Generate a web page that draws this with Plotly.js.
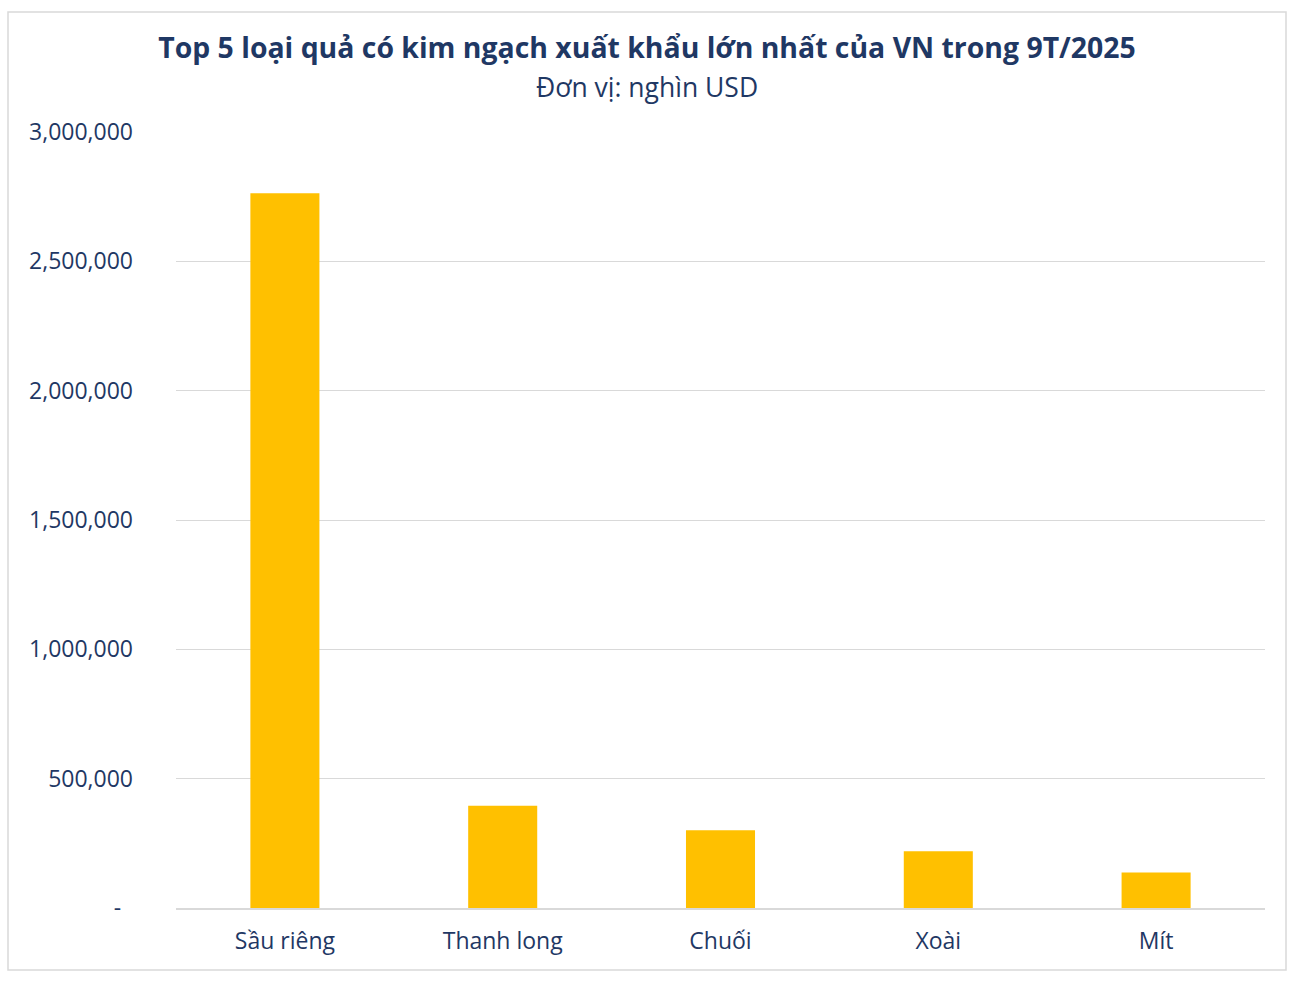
<!DOCTYPE html>
<html>
<head>
<meta charset="utf-8">
<script src="https://cdn.plot.ly/plotly-3.0.1.min.js"></script>
<style>
html,body{margin:0;padding:0;background:#ffffff;}
#chart{width:1294px;height:982px;}
</style>
</head>
<body>
<div id="chart"></div>
<script>
// Data (nghìn USD)
const categories = ["Sầu riêng", "Thanh long", "Chuối", "Xoài", "Mít"];
const values = [2763000, 395000, 301000, 219000, 137000];
const tickValues = [0, 500000, 1000000, 1500000, 2000000, 2500000, 3000000];
const tickLabels = ["-\u00a0\u00a0", "500,000", "1,000,000", "1,500,000", "2,000,000", "2,500,000", "3,000,000"];
const titleText = "Top 5 loại quả có kim ngạch xuất khẩu lớn nhất của VN trong 9T/2025";
const subtitleText = "Đơn vị: nghìn USD";

const navy = "#1f3864";
const fontFam = "'Open Sans', 'Noto Sans', sans-serif";

const trace = {
  type: "bar",
  x: categories,
  y: values,
  marker: {color: "#ffc000"},
  hoverinfo: "x+y"
};

const layout = {
  width: 1294,
  height: 982,
  margin: {l: 176, r: 29, t: 132, b: 74},
  paper_bgcolor: "#ffffff",
  plot_bgcolor: "#ffffff",
  showlegend: false,
  bargap: 0.683,
  font: {family: fontFam, color: navy},
  title: {
    text: "<b>" + titleText + "</b>",
    font: {family: fontFam, size: 28.4, color: navy},
    x: 0.5, xanchor: "center", xref: "container",
    y: 1 - 48/982, yanchor: "middle", yref: "container"
  },
  annotations: [{
    text: subtitleText,
    xref: "paper", yref: "paper",
    x: (647 - 176) / 1089, y: (908 - 87) / 776,
    xanchor: "center", yanchor: "middle",
    showarrow: false,
    font: {family: fontFam, size: 26.5, color: navy}
  }],
  xaxis: {
    type: "category",
    showgrid: false,
    showline: true,
    linecolor: "#d9d9d9",
    linewidth: 1.5,
    ticks: "",
    tickfont: {family: fontFam, size: 23, color: navy},
    ticklabelstandoff: 12,
    fixedrange: true
  },
  yaxis: {
    range: [0, 3000000],
    tickvals: tickValues,
    ticktext: tickLabels,
    showgrid: true,
    gridcolor: "#d9d9d9",
    gridwidth: 1,
    zeroline: false,
    showline: false,
    ticks: "",
    tickfont: {family: fontFam, size: 23, color: navy},
    ticklabelstandoff: 42,
    fixedrange: true
  },
  shapes: [{
    type: "rect",
    xref: "paper", yref: "paper",
    x0: (8 - 176) / 1089, x1: (1286 - 176) / 1089,
    y0: (908 - 970) / 776, y1: (908 - 12) / 776,
    line: {color: "#d9d9d9", width: 1.5},
    fillcolor: "rgba(0,0,0,0)",
    layer: "below"
  }]
};

Plotly.newPlot("chart", [trace], layout, {displayModeBar: false, staticPlot: true});
</script>
</body>
</html>
